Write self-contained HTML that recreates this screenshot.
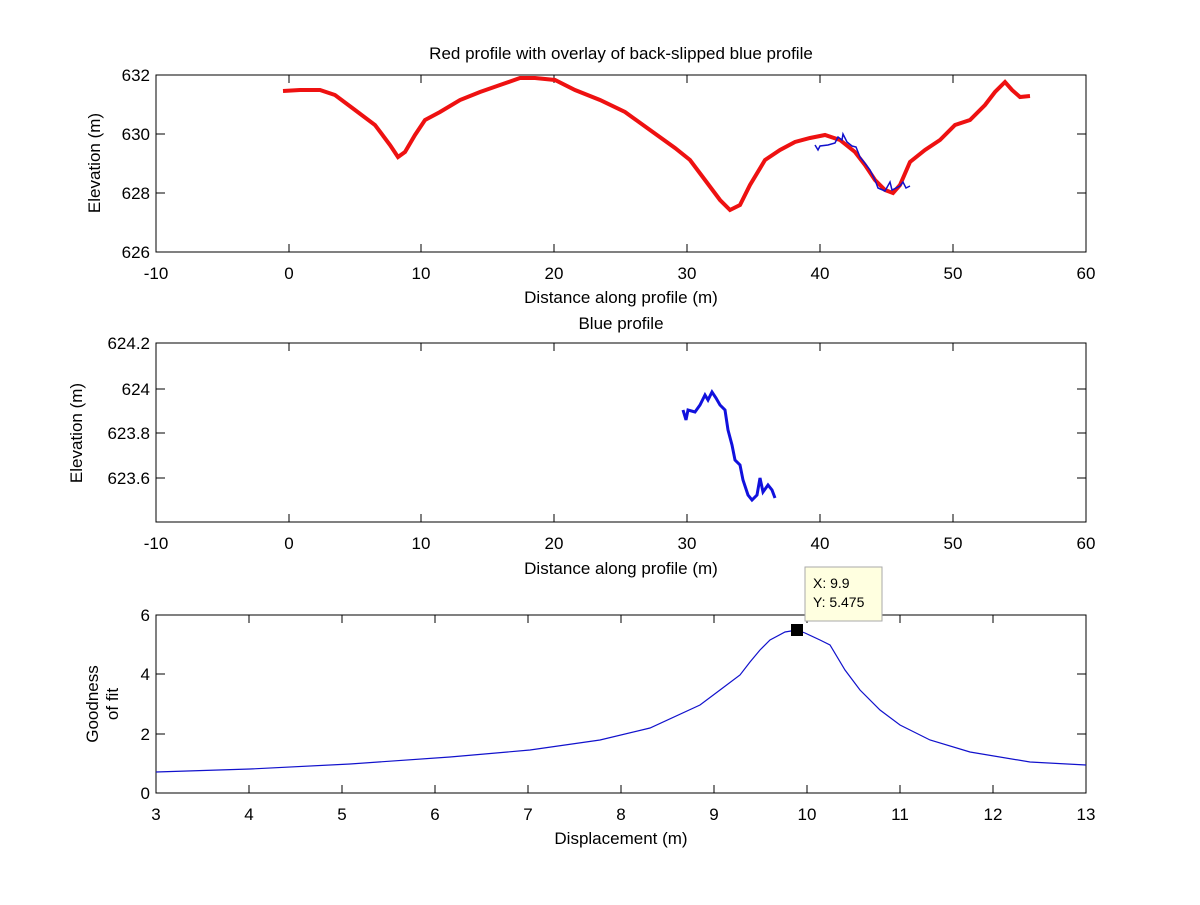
<!DOCTYPE html>
<html><head><style>body{margin:0;background:#fff}svg text{font-family:"Liberation Sans",sans-serif;fill:#000}</style></head><body>
<svg width="1200" height="900" xmlns="http://www.w3.org/2000/svg">
<rect width="1200" height="900" fill="#fff"/>
<g stroke="#000" fill="none" stroke-width="1">
<rect x="156" y="75" width="930" height="177"/>
<rect x="156" y="343" width="930" height="179"/>
<rect x="156" y="615" width="930" height="178"/>
</g>
<g stroke="#000" stroke-width="1">
<path d="M156,252v-8M289,252v-8M421,252v-8M554,252v-8M687,252v-8M820,252v-8M953,252v-8M156,75v8M289,75v8M421,75v8M554,75v8M687,75v8M820,75v8M953,75v8M156,75h9M156,134h9M156,193h9M1086,75h-9M1086,134h-9M1086,193h-9"/>
<path d="M156,522v-8M289,522v-8M421,522v-8M554,522v-8M687,522v-8M820,522v-8M953,522v-8M156,343v8M289,343v8M421,343v8M554,343v8M687,343v8M820,343v8M953,343v8M156,389h9M156,433h9M156,478h9M1086,389h-9M1086,433h-9M1086,478h-9"/>
<path d="M249,793v-8M342,793v-8M435,793v-8M528,793v-8M621,793v-8M714,793v-8M807,793v-8M900,793v-8M993,793v-8M249,615v8M342,615v8M435,615v8M528,615v8M621,615v8M714,615v8M807,615v8M900,615v8M993,615v8M156,674h9M156,734h9M1086,674h-9M1086,734h-9"/>
</g>
<g font-size="17" text-anchor="middle">
<text x="156" y="279">-10</text><text x="289" y="279">0</text><text x="421" y="279">10</text><text x="554" y="279">20</text><text x="687" y="279">30</text><text x="820" y="279">40</text><text x="953" y="279">50</text><text x="1086" y="279">60</text>
<text x="156" y="549">-10</text><text x="289" y="549">0</text><text x="421" y="549">10</text><text x="554" y="549">20</text><text x="687" y="549">30</text><text x="820" y="549">40</text><text x="953" y="549">50</text><text x="1086" y="549">60</text>
<text x="156" y="820">3</text><text x="249" y="820">4</text><text x="342" y="820">5</text><text x="435" y="820">6</text><text x="528" y="820">7</text><text x="621" y="820">8</text><text x="714" y="820">9</text><text x="807" y="820">10</text><text x="900" y="820">11</text><text x="993" y="820">12</text><text x="1086" y="820">13</text>
<text x="621" y="303">Distance along profile (m)</text>
<text x="621" y="574">Distance along profile (m)</text>
<text x="621" y="844">Displacement (m)</text>
<text x="621" y="59">Red profile with overlay of back-slipped blue profile</text>
<text x="621" y="329">Blue profile</text>
</g>
<g font-size="17" text-anchor="end">
<text x="150" y="81">632</text><text x="150" y="140">630</text><text x="150" y="199">628</text><text x="150" y="258">626</text>
<text x="150" y="349">624.2</text><text x="150" y="395">624</text><text x="150" y="439">623.8</text><text x="150" y="484">623.6</text>
<text x="150" y="621">6</text><text x="150" y="680">4</text><text x="150" y="740">2</text><text x="150" y="799">0</text>
</g>
<g font-size="17" text-anchor="middle">
<text transform="translate(100,163) rotate(-90)">Elevation (m)</text>
<text transform="translate(82,433) rotate(-90)">Elevation (m)</text>
<text transform="translate(98,704) rotate(-90)">Goodness</text>
<text transform="translate(118,704) rotate(-90)">of fit</text>
</g>
<polyline fill="none" stroke="#ee1111" stroke-width="4" points="283,91 300,90 320,90 335,95 355,110 375,125 390,145 398,157 405,152 415,135 425,120 440,112 460,100 480,92 500,85 520,78 535,78 555,80 575,90 600,100 625,112 650,130 675,148 690,160 705,180 720,200 730,210 740,205 750,185 765,160 780,150 795,142 810,138 825,135 840,140 855,152 865,165 875,180 885,190 893,193 900,185 910,162 925,150 940,140 955,125 970,120 985,105 995,92 1005,82 1012,90 1020,97 1030,96"/>
<polyline fill="none" stroke="#1111cc" stroke-width="1.5" points="815,145 818,150 820,146 828,145 835,143 838,137 842,140 843,134 847,142 852,146 856,147 860,157 864,162 870,170 875,180 878,188 885,191 890,182 892,190 900,186 903,182 906,188 910,186"/>
<polyline fill="none" stroke="#1111dd" stroke-width="3" points="683,410 686,420 688,410 695,412 700,405 705,395 708,400 712,392 716,398 720,405 725,410 728,430 732,445 735,460 740,465 743,480 748,495 752,500 757,495 760,478 763,492 768,485 772,490 775,498"/>
<polyline fill="none" stroke="#1111cc" stroke-width="1.2" points="156,772 250,769 350,764 450,757 530,750 600,740 650,728 700,705 720,690 740,675 750,662 760,650 770,640 785,632 797,630 805,633 820,640 830,645 845,670 860,690 880,710 900,725 930,740 970,752 1030,762 1086,765"/>
<rect x="791" y="624" width="12" height="12" fill="#000"/>
<rect x="805" y="567" width="77" height="54" fill="#ffffe0" stroke="#aaa"/>
<text x="813" y="588" font-size="14">X: 9.9</text>
<text x="813" y="607" font-size="14">Y: 5.475</text>
</svg>
</body></html>
